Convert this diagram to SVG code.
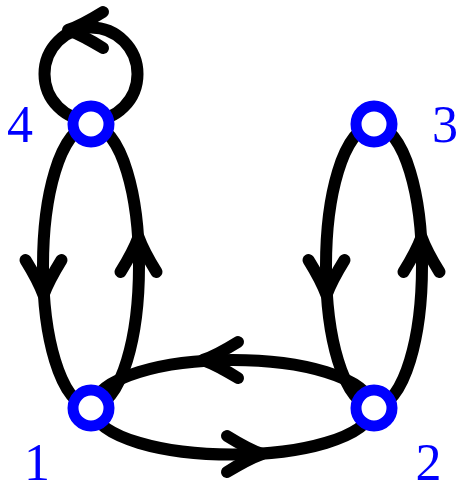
<svg xmlns="http://www.w3.org/2000/svg" xmlns:xlink="http://www.w3.org/1999/xlink" width="461" height="483" viewBox="0 0 461 483">
<style>
.edge{fill:none;stroke:#000;stroke-width:12;stroke-linecap:round;stroke-linejoin:round}
.node circle{fill:#fff;stroke:#0000ff;stroke-width:11}
.lbl{font-family:"Liberation Serif","DejaVu Serif",serif;font-size:52px;fill:#0000ff;text-anchor:middle}
</style>
<defs>
<path id="ah" class="edge" d="M -35,-18 Q -14,-5 0,0 Q -14,5 -35,18"/>
</defs>
<rect width="461" height="483" fill="#fff"/>
<g id="connectors">
<circle class="edge" cx="91" cy="74" r="46.5"/>
<use xlink:href="#ah" transform="translate(68,30) rotate(180)"/>
<path class="edge" d="M 91,124 C 27,135 27,397 91,408"/>
<use xlink:href="#ah" transform="translate(43.5,295) rotate(90)"/>
<path class="edge" d="M 91,408 C 155,397 155,135 91,124"/>
<use xlink:href="#ah" transform="translate(138.5,237) rotate(-90)"/>
<path class="edge" d="M 374,124 C 310,135 310,397 374,408"/>
<use xlink:href="#ah" transform="translate(326.5,295) rotate(90)"/>
<path class="edge" d="M 374,408 C 438,397 438,135 374,124"/>
<use xlink:href="#ah" transform="translate(421.5,237) rotate(-90)"/>
<path class="edge" d="M 91,408 C 105,470 360,470 374,408"/>
<use xlink:href="#ah" transform="translate(262,454) rotate(0)"/>
<path class="edge" d="M 374,408 C 360,344 105,344 91,408"/>
<use xlink:href="#ah" transform="translate(203,360) rotate(180)"/>
</g>
<g id="node1" class="node"><circle cx="91" cy="408" r="18"/><text class="lbl" x="37" y="480">1</text></g>
<g id="node2" class="node"><circle cx="374" cy="408" r="18"/><text class="lbl" x="428.5" y="480">2</text></g>
<g id="node3" class="node"><circle cx="374" cy="124" r="18"/><text class="lbl" x="445" y="142">3</text></g>
<g id="node4" class="node"><circle cx="91" cy="124" r="18"/><text class="lbl" x="20" y="142">4</text></g>
</svg>
